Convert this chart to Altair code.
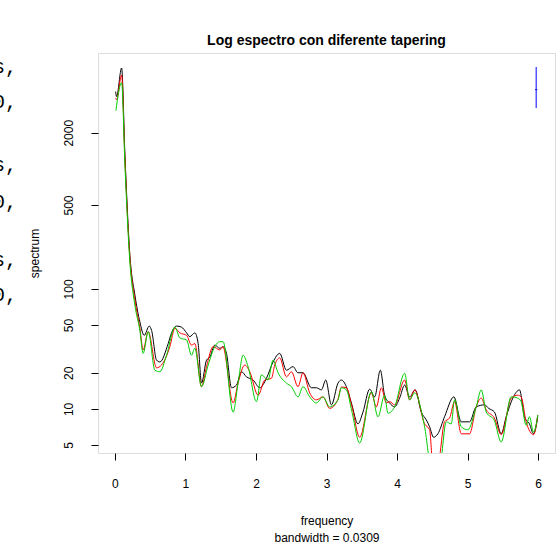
import altair as alt
import pandas as pd

# ---- data ----
black_freq = [0.01, 0.024, 0.095, 0.142, 0.212, 0.283, 0.354, 0.415, 0.486, 0.52, 0.59, 0.637, 0.755, 0.803,
              0.874, 0.945, 1.016, 1.062, 1.133, 1.18, 1.228, 1.299, 1.346, 1.416, 1.487, 1.534, 1.582, 1.653,
              1.724, 1.795, 1.865, 1.959, 2.054, 2.149, 2.242, 2.337, 2.432, 2.525, 2.596, 2.667, 2.786, 2.857,
              2.928, 2.989, 3.07, 3.163, 3.211, 3.282, 3.353, 3.446, 3.517, 3.612, 3.683, 3.763, 3.824, 3.895,
              3.966, 4.037, 4.108, 4.178, 4.259, 4.344, 4.415, 4.462, 4.518, 4.579, 4.674, 4.806, 4.911, 5.028,
              5.123, 5.24, 5.3, 5.382, 5.477, 5.548, 5.642, 5.737, 5.807, 5.878, 5.935, 5.996]
black_spec = [4400, 4000, 6930, 1306, 191, 89, 53, 41, 49, 45, 25.5, 24.6, 35, 43,
              49, 48, 43, 40, 43, 35, 16.4, 25.5, 27, 34, 32, 33, 29, 15,
              15.8, 20.4, 18.5, 17.4, 15, 18, 24.6, 29, 21, 22.5, 20, 20, 15, 15,
              14.4, 17.4, 10.8, 16.4, 17.4, 15.3, 11.2, 7.5, 9.4, 14.6, 12.6, 21, 13, 11.2,
              10.4, 12.3, 15.8, 12.6, 14.4, 9.4, 8.1, 7.1, 5.8, 6.2, 8.6, 12.6, 7.8, 7.8,
              10.4, 10.8, 10.1, 9.4, 6.2, 8.6, 12.3, 14.4, 8.6, 7.5, 6.2, 8.6]

red_freq = [0.01, 0.024, 0.095, 0.142, 0.212, 0.283, 0.354, 0.40, 0.472, 0.59, 0.661, 0.779, 0.85, 0.921,
            1.016, 1.086, 1.133, 1.228, 1.299, 1.392, 1.487, 1.53, 1.676, 1.746, 1.841, 1.912, 2.03, 2.125,
            2.22, 2.266, 2.337, 2.432, 2.503, 2.596, 2.667, 2.762, 2.857, 2.95, 3.045, 3.159, 3.211, 3.282,
            3.36, 3.47, 3.636, 3.707, 3.778, 3.848, 3.895, 3.966, 4.108, 4.178, 4.249, 4.391, 4.462, 4.508,
            4.579, 4.674, 4.745, 4.816, 4.911, 5.028, 5.123, 5.194, 5.265, 5.38, 5.477, 5.619, 5.713, 5.76,
            5.831, 5.935, 5.996]
red_spec = [3900, 3770, 6055, 1187, 181, 81, 47, 31, 44, 22, 23.2, 33, 47, 43,
            41, 34, 35, 15.3, 22.5, 33, 31, 33, 11.2, 16.4, 23.2, 20.4, 13, 17.4,
            18, 23.2, 26.6, 18.5, 20.4, 15.3, 20, 13.6, 11.9, 12.6, 10.1, 11.9, 15.2, 15,
            10.5, 5.8, 13.6, 10.4, 15, 11.2, 11.5, 10.8, 17.4, 11.9, 14.4, 7.5, 6.7, 3.5,
            3.5, 7.8, 8.4, 11.5, 6.2, 6.2, 10.4, 12.3, 9.8, 8.4, 6.1, 12.3, 13, 12.6,
            7.8, 6.1, 8.9]

green_freq = [0.014, 0.095, 0.142, 0.212, 0.283, 0.354, 0.40, 0.472, 0.567, 0.637, 0.732, 0.85, 0.921,
              1.016, 1.086, 1.133, 1.228, 1.322, 1.416, 1.487, 1.534, 1.676, 1.746, 1.817, 1.888, 2.007,
              2.078, 2.171, 2.242, 2.313, 2.432, 2.503, 2.596, 2.667, 2.762, 2.857, 2.95, 3.045, 3.163,
              3.211, 3.282, 3.36, 3.47, 3.636, 3.73, 3.824, 3.871, 3.966, 4.108, 4.178, 4.249, 4.391,
              4.486, 4.603, 4.698, 4.769, 4.816, 4.911, 5.004, 5.123, 5.194, 5.265, 5.38, 5.477, 5.619,
              5.713, 5.76, 5.831, 5.878, 5.935, 5.996]
green_spec = [3055, 5226, 1077, 167, 73, 45, 29, 44, 21, 20.4, 28, 48, 39,
              37.5, 28, 32, 15.3, 23.2, 33, 36.3, 36.3, 9.4, 16.4, 28, 22.5, 11.5,
              19.2, 17.4, 25.5, 20, 16.4, 15.3, 12.6, 15.3, 12.6, 11.2, 12.6, 10.4, 11.9,
              15, 14.4, 9.5, 5.2, 13.9, 8.6, 13, 9.2, 10.4, 19.8, 11.9, 13.6, 7.1,
              3.3, 3.3, 7.8, 7.5, 11.9, 7.1, 6.7, 10.4, 14.4, 9.4, 8, 5.3, 12.6,
              12.3, 11.5, 7.3, 8.6, 6.4, 8.9]

series_names = ["black", "red", "green"]
series_colors = ["#000000", "#FF0000", "#00CD00"]

# bandwidth / confidence cross
bw_center_freq = [5.973]
bw_half = 0.0309 / 2
ci_low = [3216]
ci_high = [7063]
ci_center = [4570]

x_ticks = [0, 1, 2, 3, 4, 5, 6]
y_ticks = [5, 10, 20, 50, 100, 500, 2000]
x_domain = [-0.24, 6.24]
y_domain = [4.29, 9242]

spill_texts = ["s,", "0,", "s,", "0,", "s,", "0,"]

# ---- build table ----
rows = []
for name, fr, sp in [("black", black_freq, black_spec), ("red", red_freq, red_spec),
                     ("green", green_freq, green_spec)]:
    for i, (f, s) in enumerate(zip(fr, sp)):
        rows.append({"series": name, "freq": f, "spec": s, "ord": i})
df = pd.DataFrame(rows)

ci_df = pd.DataFrame({"freq": bw_center_freq, "lo": ci_low, "hi": ci_high, "mid": ci_center,
                      "f1": [bw_center_freq[0] - bw_half], "f2": [bw_center_freq[0] + bw_half]})

FONT = "Liberation Sans"

xscale = alt.Scale(domain=x_domain, nice=False, zero=False)
yscale = alt.Scale(type="log", domain=y_domain, nice=False)

xaxis = alt.Axis(values=x_ticks, grid=False, domain=False, tickColor="black", tickSize=7,
                 labelFontSize=12, labelColor="black", labelPadding=18, labelFont=FONT,
                 title=["frequency", "bandwidth = 0.0309"], titleFontWeight="normal",
                 titleFontSize=12, titleFont=FONT, titleColor="black", titlePadding=26,
                 titleLineHeight=17, format="d")
yaxis = alt.Axis(values=y_ticks, grid=False, domain=False, tickColor="black", tickSize=7,
                 labelFontSize=12, labelColor="black", labelPadding=16, labelAngle=270,
                 labelAlign="center", labelBaseline="bottom", labelFont=FONT,
                 title="spectrum", titleFontWeight="normal", titleFontSize=12, titleFont=FONT,
                 titleColor="black", titlePadding=21, format="d")

lines = alt.Chart(df).mark_line(strokeWidth=1, clip=True, interpolate="monotone").encode(
    x=alt.X("freq:Q", scale=xscale, axis=xaxis),
    y=alt.Y("spec:Q", scale=yscale, axis=yaxis),
    color=alt.Color("series:N", scale=alt.Scale(domain=series_names, range=series_colors), legend=None),
    detail="series:N",
    order="ord:Q",
)

vrule = alt.Chart(ci_df).mark_rule(color="#0000FF", strokeWidth=1).encode(
    x="freq:Q", y="lo:Q", y2="hi:Q")
hrule = alt.Chart(ci_df).mark_rule(color="#0000FF", strokeWidth=1).encode(
    x="f1:Q", x2="f2:Q", y="mid:Q")

spill_y = [14, 49, 112, 149, 207, 242]
spill_layers = []
for t, yy in zip(spill_texts, spill_y):
    spill_layers.append(
        alt.Chart(pd.DataFrame({"t": [t]})).mark_text(
            align="right", baseline="middle", fontSize=20, font="Liberation Mono", color="black"
        ).encode(x=alt.value(-81), y=alt.value(yy), text="t:N")
    )

chart = alt.layer(lines, vrule, hrule, *spill_layers).properties(
    width=457, height=400,
    title=alt.Title("Log espectro con diferente tapering", font=FONT, fontSize=14,
                    fontWeight="bold", color="black", anchor="middle", offset=5),
    autosize=alt.AutoSizeParams(type="none"),
    padding={"left": 98, "top": 53, "right": 1, "bottom": 96},
).configure_view(stroke="black", strokeWidth=1).configure(background="white")

chart.save("out.html", embed_options={"renderer": "svg", "actions": False})
